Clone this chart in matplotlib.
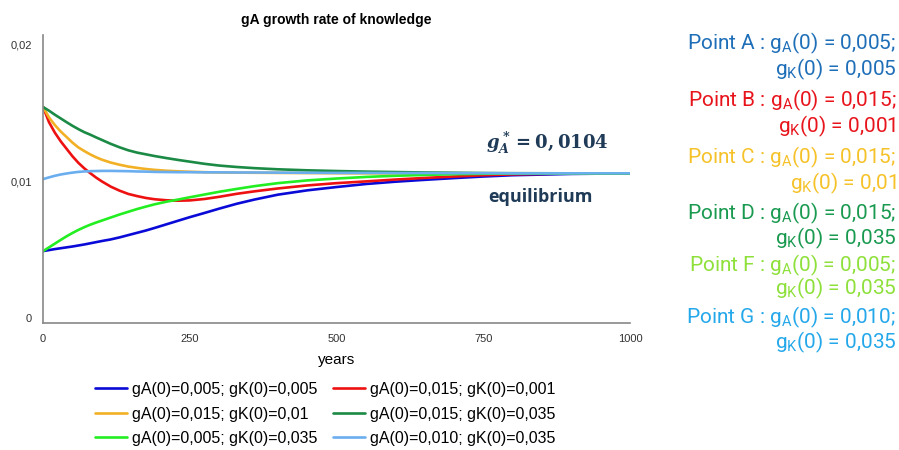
import matplotlib
matplotlib.use("Agg")
import matplotlib.pyplot as plt
import matplotlib.transforms as mtransforms

plt.rcParams['font.family'] = ['Liberation Sans', 'DejaVu Sans']
plt.rcParams['mathtext.fontset'] = 'custom'
plt.rcParams['mathtext.it'] = 'DejaVu Serif:italic:bold'
plt.rcParams['mathtext.rm'] = 'DejaVu Serif:bold'
plt.rcParams['mathtext.bf'] = 'DejaVu Serif:bold'

years = [0, 10, 20, 30, 40, 50, 60, 70, 80, 90, 100, 115, 130, 145, 160, 175,
         190, 210, 230, 250, 275, 300, 330, 360, 400, 450, 500, 550, 600, 650,
         700, 750, 800, 900, 1000]

gA_A = [0.0050, 0.00507, 0.00514, 0.0052, 0.00526, 0.00532, 0.00539, 0.00546,
        0.00554, 0.00562, 0.0057, 0.00581, 0.00595, 0.00611, 0.00627, 0.00643,
        0.00661, 0.00686, 0.00711, 0.00736, 0.00765, 0.00795, 0.00829, 0.00858,
        0.00892, 0.00922, 0.00945, 0.00966, 0.00982, 0.00995, 0.01007, 0.01018,
        0.01027, 0.01036, 0.0104]
gA_B = [0.0150, 0.01395, 0.01322, 0.01262, 0.0121, 0.01158, 0.01113, 0.01075,
        0.01042, 0.01011, 0.00984, 0.00948, 0.0092, 0.00897, 0.00882, 0.00869,
        0.0086, 0.00853, 0.0085, 0.00852, 0.00862, 0.00877, 0.00898, 0.00915,
        0.00935, 0.00956, 0.00972, 0.00984, 0.00997, 0.01008, 0.01018, 0.01027,
        0.01033, 0.01039, 0.0104]
gA_C = [0.0150, 0.01428, 0.01375, 0.0133, 0.01292, 0.01253, 0.0122, 0.01195,
        0.01172, 0.01152, 0.01135, 0.01115, 0.011, 0.01087, 0.01078, 0.0107,
        0.01064, 0.01058, 0.01054, 0.01051, 0.01048, 0.01046, 0.01045, 0.01044,
        0.01043, 0.01042, 0.01041, 0.0104, 0.0104, 0.0104, 0.0104, 0.0104,
        0.0104, 0.0104, 0.0104]
gA_D = [0.0150, 0.01475, 0.01447, 0.01421, 0.01395, 0.0137, 0.01347, 0.01326,
        0.01309, 0.0129, 0.01272, 0.01245, 0.01221, 0.012, 0.01184, 0.01172,
        0.0116, 0.01146, 0.01133, 0.01121, 0.01106, 0.01094, 0.01084, 0.01076,
        0.01068, 0.01061, 0.01056, 0.01052, 0.01049, 0.01046, 0.01044, 0.01042,
        0.01041, 0.0104, 0.0104]
gA_F = [0.0050, 0.00526, 0.00552, 0.00578, 0.00603, 0.00626, 0.00647, 0.00666,
        0.00683, 0.00698, 0.00712, 0.00733, 0.00754, 0.00773, 0.00792, 0.00809,
        0.00825, 0.00843, 0.00858, 0.00874, 0.00893, 0.00912, 0.00932, 0.00951,
        0.00972, 0.00991, 0.01004, 0.01015, 0.01023, 0.01029, 0.01034, 0.01037,
        0.01039, 0.0104, 0.0104]
gA_G = [0.0100, 0.01012, 0.01023, 0.01032, 0.01039, 0.01045, 0.0105, 0.01053,
        0.01055, 0.01056, 0.01057, 0.01057, 0.01056, 0.01055, 0.01053, 0.01052,
        0.0105, 0.01049, 0.01048, 0.01048, 0.01047, 0.01047, 0.01046, 0.01046,
        0.01045, 0.01044, 0.01043, 0.01043, 0.01042, 0.01042, 0.01041, 0.01041,
        0.0104, 0.0104, 0.0104]

series = [gA_A, gA_B, gA_C, gA_D, gA_F, gA_G]
labels = ["gA(0)=0,005; gK(0)=0,005", "gA(0)=0,015; gK(0)=0,001",
          "gA(0)=0,015; gK(0)=0,01", "gA(0)=0,015; gK(0)=0,035",
          "gA(0)=0,005; gK(0)=0,035", "gA(0)=0,010; gK(0)=0,035"]
colors = ["#0a0ad8", "#ee1111", "#f2b025", "#1b8a45", "#22ee22", "#6aaef0"]

point_names = ["Point A", "Point B", "Point C", "Point D", "Point F", "Point G"]
point_gA = ["0,005", "0,015", "0,015", "0,015", "0,005", "0,010"]
point_gK = ["0,005", "0,001", "0,01", "0,035", "0,035", "0,035"]
point_colors = ["#1f6fb8", "#e8141c", "#f6c22a", "#1a9a50", "#8ee03a", "#25a8ea"]

fig = plt.figure(figsize=(8.99, 4.5), dpi=100)
ax = fig.add_axes([0.048, 0.282, 0.653, 0.64])

handles = []
for vals, lab, col in zip(series, labels, colors):
    h, = ax.plot(years, vals, color=col, lw=1.9, label=lab,
                 solid_capstyle='round', solid_joinstyle='round')
    handles.append(h)

ax.set_xlim(0, 1000)
ax.set_ylim(0, 0.02)
ax.set_xticks([0, 250, 500, 750, 1000])
ax.set_xticklabels(["0", "250", "500", "750", "1000"])
ax.set_yticks([0, 0.01, 0.02])
ax.set_yticklabels(["0", "0,01", "0,02"])
ax.tick_params(length=0, labelsize=8, colors="#333333", pad=8)
for s in ["top", "right"]:
    ax.spines[s].set_visible(False)
for s in ["left", "bottom"]:
    ax.spines[s].set_color("#888888")
    ax.spines[s].set_linewidth(1.2)

# nudge y tick labels as in the reference
shifts = [0.05, -0.02, -0.09]
for lbl, dy in zip(ax.get_yticklabels(), shifts):
    lbl.set_transform(lbl.get_transform() +
                      mtransforms.ScaledTranslation(0, dy, fig.dpi_scale_trans))

ax.set_title("gA growth rate of knowledge", fontsize=10, fontweight="bold", pad=8)
ax.set_xlabel("years", fontsize=11, labelpad=6)

ax.text(0.859, 0.625, r"$g_A^* = 0,0104$", transform=ax.transAxes,
        fontsize=13, color="#1f3b57", ha="center", va="center",
        math_fontfamily="custom")
ax.text(0.847, 0.4375, "equilibrium", transform=ax.transAxes,
        fontsize=13, fontweight="bold", color="#1f3b57", ha="center",
        va="center", family="Open Sans")

order = [0, 2, 4, 1, 3, 5]
fig.legend([handles[i] for i in order], [labels[i] for i in order],
           ncol=2, frameon=False, loc="center", bbox_to_anchor=(0.3615, 0.08),
           fontsize=11.5, handlelength=2.0, handletextpad=0.3,
           columnspacing=1.0, labelspacing=0.6)

ya = [43, 100, 157, 213, 265, 317]
yb = [69, 126, 183, 238, 288, 342]
for i in range(6):
    fig.text(0.997, 1 - ya[i] / 450,
             point_names[i] + " : g$_\\mathregular{A}$(0) = " + point_gA[i] + ";",
             ha="right", va="center", fontsize=15, color=point_colors[i],
             family="Roboto")
    fig.text(0.997, 1 - yb[i] / 450,
             "g$_\\mathregular{K}$(0) = " + point_gK[i],
             ha="right", va="center", fontsize=15, color=point_colors[i],
             family="Roboto")

fig.savefig("out.png", dpi=100)
